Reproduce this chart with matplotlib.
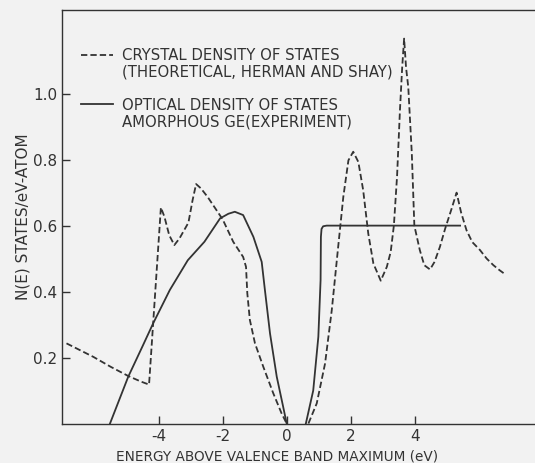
import numpy as np
import matplotlib
matplotlib.use("Agg")
import matplotlib.pyplot as plt
from matplotlib.lines import Line2D

plt.rcParams['axes.unicode_minus'] = False
plt.rcParams['font.family'] = ['DejaVu Sans']

# crystal density of states (theoretical, Herman and Shay) - dashed
crystal_e = [-6.88, -6.04, -5.5, -4.95, -4.55, -4.30,
             -3.93, -3.82, -3.67, -3.51, -3.35, -3.07, -2.94, -2.83, -2.68,
             -2.47, -2.0, -1.67, -1.36, -1.27, -1.23, -1.15, -0.99, -0.73,
             -0.42, -0.16, 0.0]
crystal_n = [0.243, 0.202, 0.172, 0.144, 0.127, 0.118,
             0.655, 0.627, 0.571, 0.541, 0.561, 0.609, 0.677, 0.726, 0.713,
             0.687, 0.619, 0.551, 0.505, 0.475, 0.395, 0.314, 0.243, 0.172,
             0.092, 0.031, 0.0]
crystal_e2 = [0.68, 0.94, 1.2, 1.41, 1.61, 1.77, 1.93, 2.08, 2.24, 2.39, 2.55,
              2.71, 2.94, 3.13, 3.25, 3.35, 3.45, 3.54, 3.61, 3.67, 3.73, 3.80,
              3.91, 3.99, 4.16, 4.30, 4.48, 4.62, 4.79, 4.95, 5.15, 5.31, 5.45,
              5.62, 5.80, 6.04, 6.25, 6.46, 6.65, 6.82]
crystal_n2 = [0.0, 0.061, 0.182, 0.344, 0.536, 0.687, 0.798, 0.824, 0.793,
              0.708, 0.576, 0.485, 0.433, 0.475, 0.52, 0.60, 0.75, 0.95, 1.08,
              1.167, 1.08, 1.02, 0.82, 0.60, 0.526, 0.48, 0.467, 0.49, 0.536,
              0.59, 0.65, 0.70, 0.64, 0.586, 0.55, 0.526, 0.50, 0.48, 0.465,
              0.453]

# optical density of states, amorphous Ge (experiment) - solid
optical_e = [-5.52, -4.95, -4.5, -4.17, -3.65, -3.09, -2.57, -2.08, -1.82,
             -1.62, -1.36, -1.04, -0.78, -0.68, -0.52, -0.31, -0.11, 0.0]
optical_n = [0.0, 0.142, 0.235, 0.304, 0.405, 0.495, 0.551, 0.622, 0.636,
             0.642, 0.632, 0.566, 0.49, 0.405, 0.273, 0.142, 0.051, 0.0]
optical_e2 = [0.60, 0.83, 0.99, 1.06, 1.07, 1.09, 1.14, 1.25, 5.42]
optical_n2 = [0.0, 0.10, 0.263, 0.435, 0.566, 0.59, 0.598, 0.60, 0.60]

x_ticks = [-4, -2, 0, 2, 4]
y_ticks = [0.2, 0.4, 0.6, 0.8, 1.0]

ink = '#333333'
bg = '#f2f2f2'

fig = plt.figure(figsize=(5.35, 4.63), dpi=100, facecolor=bg)
ax = fig.add_axes([0.1153, 0.0853, 0.8847, 0.894], facecolor=bg)

dash = (0, (3.5, 1.7))
ax.plot(crystal_e, crystal_n, color=ink, lw=1.3, linestyle=dash)
ax.plot(crystal_e2, crystal_n2, color=ink, lw=1.3, linestyle=dash)
ax.plot(optical_e, optical_n, color=ink, lw=1.3)
ax.plot(optical_e2, optical_n2, color=ink, lw=1.3)

ax.set_xlim(-7.03, 7.76)
ax.set_ylim(0, 1.255)
ax.set_xticks(x_ticks)
ax.set_xticklabels([str(v) for v in x_ticks])
ax.set_yticks(y_ticks)
ax.set_yticklabels(['%.1f' % v for v in y_ticks])
ax.tick_params(direction='in', length=6, width=1.0, color=ink,
               labelcolor=ink, labelsize=11)
ax.tick_params(axis='x', pad=4)
ax.tick_params(axis='y', pad=3)

for side in ['left', 'bottom', 'top']:
    ax.spines[side].set_color(ink)
    ax.spines[side].set_linewidth(1.0)
ax.spines['right'].set_visible(False)

ax.set_xlabel('ENERGY ABOVE VALENCE BAND MAXIMUM (eV)', fontsize=9.8, color=ink)
ax.xaxis.set_label_coords(0.455, -0.080)
ax.xaxis.label.set_va('center')
ax.set_ylabel('N(E) STATES/eV-ATOM', fontsize=11, color=ink)
ax.yaxis.set_label_coords(-0.066, 0.5)

blank = Line2D([], [], linestyle='none')
handles = [Line2D([], [], color=ink, lw=1.3, linestyle=dash), blank, blank,
           Line2D([], [], color=ink, lw=1.3), blank]
labels = ['CRYSTAL DENSITY OF STATES', '(THEORETICAL, HERMAN AND SHAY)', ' ',
          'OPTICAL DENSITY OF STATES', 'AMORPHOUS GE(EXPERIMENT)']
leg = ax.legend(handles, labels, loc='upper left', bbox_to_anchor=(0.041, 0.907),
                frameon=False, borderpad=0, borderaxespad=0, handlelength=2.15,
                handletextpad=0.62, labelspacing=0.1, fontsize=10.7)
for t in leg.get_texts():
    t.set_color(ink)

fig.savefig('out.png', dpi=100, facecolor=bg)
